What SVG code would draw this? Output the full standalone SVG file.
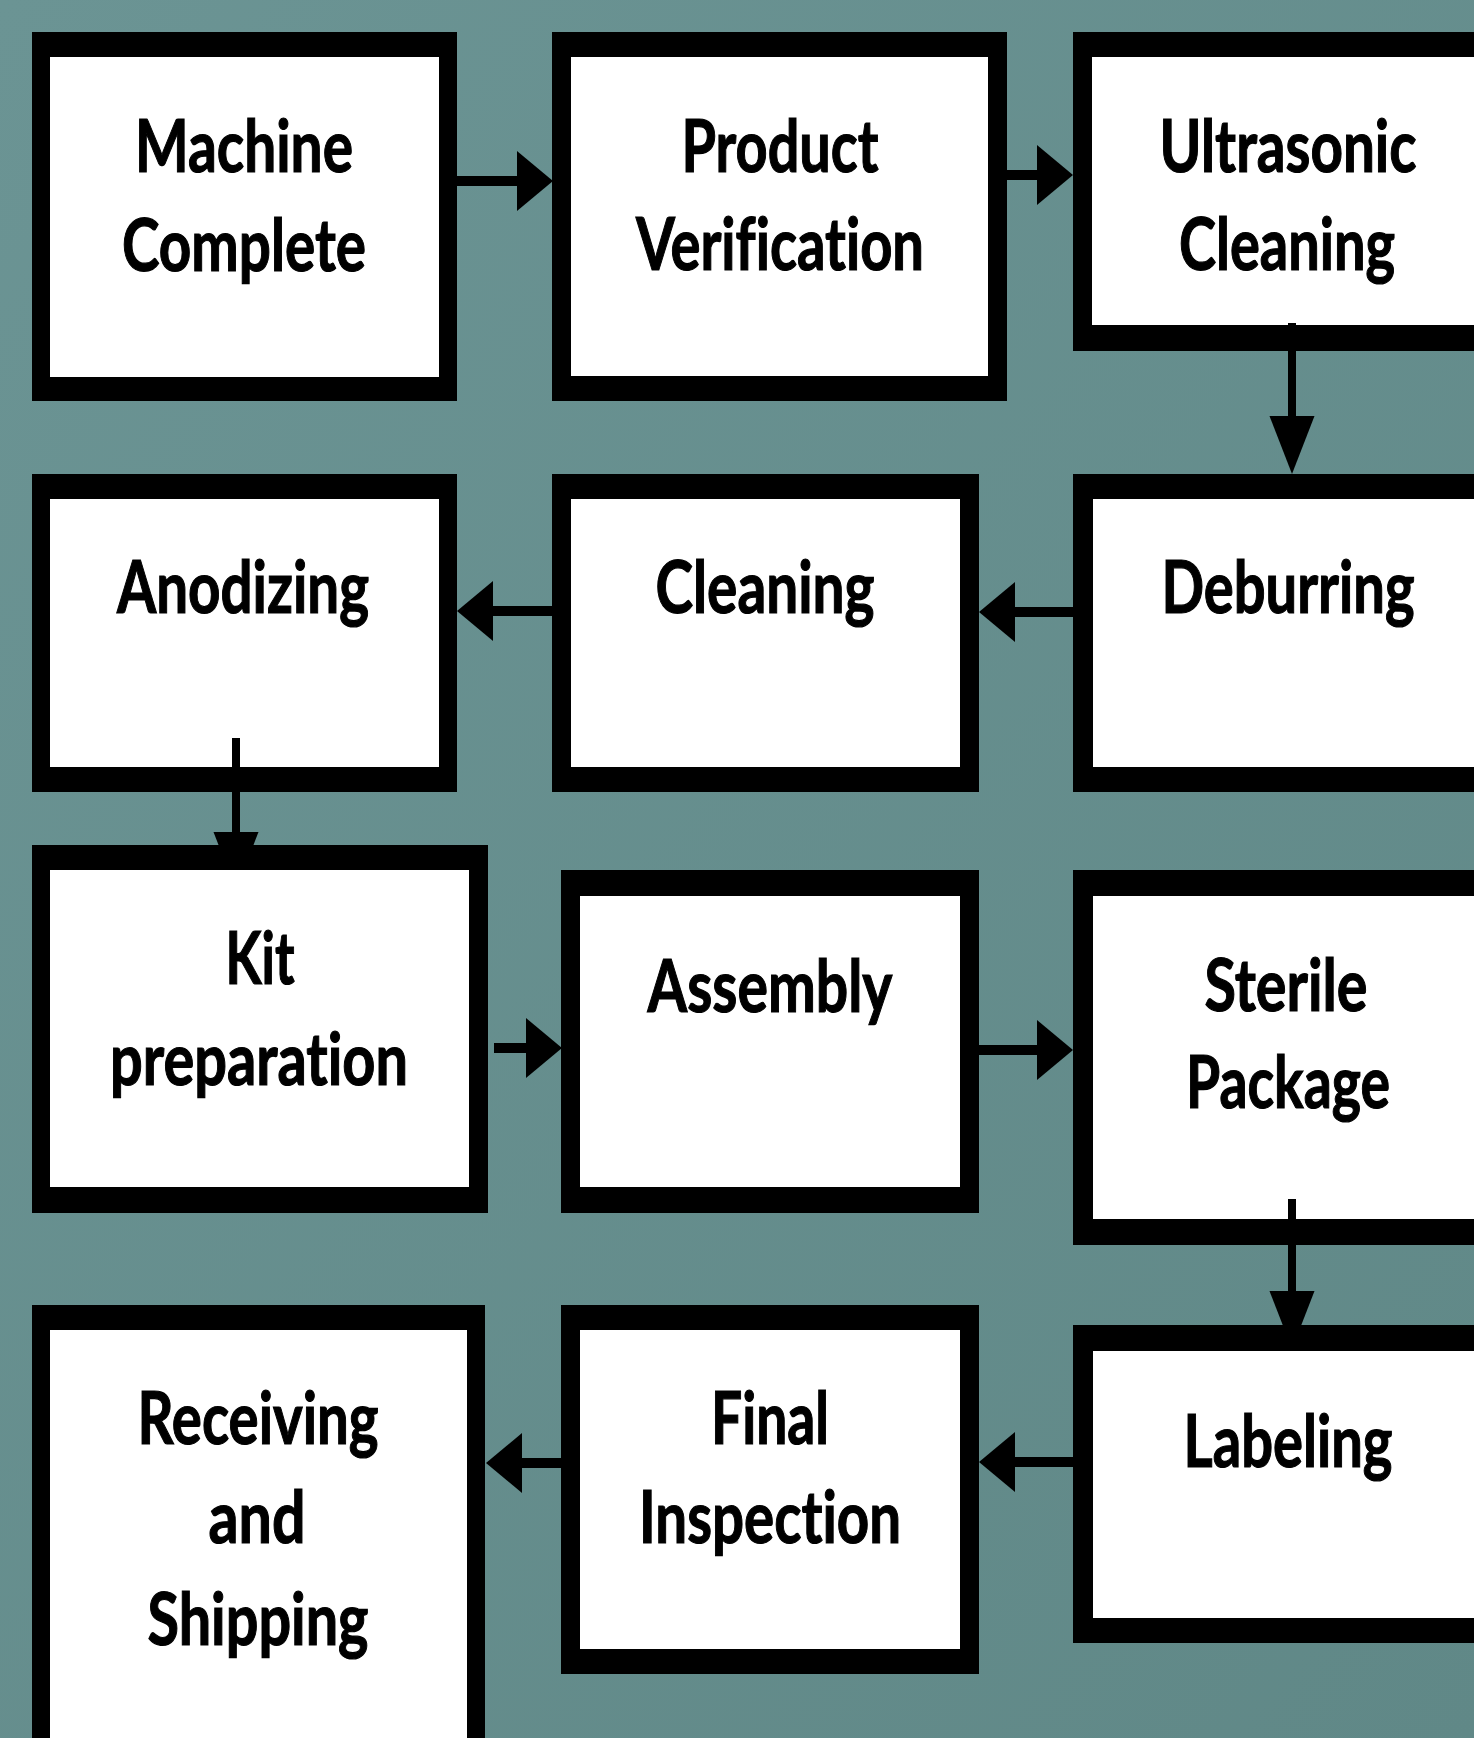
<svg xmlns="http://www.w3.org/2000/svg" width="1474" height="1738" viewBox="0 0 1474 1738">
  <defs>
    <linearGradient id="bg" x1="0" y1="0" x2="1" y2="1">
      <stop offset="0" stop-color="#6b9494"/>
      <stop offset="1" stop-color="#608887"/>
    </linearGradient>
    <!-- arrowheads: horizontal runs are short and wide, vertical runs long and narrow -->
    <marker id="headH" markerUnits="userSpaceOnUse" markerWidth="36" markerHeight="62" viewBox="0 -31 36 62" refX="0" refY="0" orient="auto" overflow="visible">
      <path d="M0,-30 L36,0 L0,30 Z" fill="#000"/>
    </marker>
    <marker id="headV" markerUnits="userSpaceOnUse" markerWidth="58" markerHeight="46" viewBox="0 -23 58 46" refX="0" refY="0" orient="auto" overflow="visible">
      <path d="M0,-22.5 L58,0 L0,22.5 Z" fill="#000"/>
    </marker>
    <clipPath id="aboveKit">
      <rect x="0" y="0" width="1474" height="870"/>
    </clipPath>
  </defs>
  <style>
    .frame { fill: #000; }
    .face { fill: #fff; }
    .label { font-family: "Lato", "Open Sans", "Liberation Sans", sans-serif; font-weight: 700; font-size: 73px; font-variant-ligatures: none; fill: #000; stroke: #000; stroke-width: 1.2; text-anchor: middle; }
    .h { fill: none; stroke: #000; stroke-width: 10; marker-end: url(#headH); }
    .v { fill: none; stroke: #000; stroke-width: 8; marker-end: url(#headV); }
  </style>

  <rect x="0" y="0" width="1474" height="1738" fill="url(#bg)"/>

  <!-- process steps -->
  <g id="machine-complete">
    <rect class="frame" x="32" y="32" width="425" height="369"/>
    <rect class="face" x="50" y="57" width="389" height="320"/>
    <text class="label" x="244" y="172" textLength="218" lengthAdjust="spacingAndGlyphs">Machine</text>
    <text class="label" x="244" y="271" textLength="244" lengthAdjust="spacingAndGlyphs">Complete</text>
  </g>
  <g id="product-verification">
    <rect class="frame" x="552" y="32" width="455" height="369"/>
    <rect class="face" x="571" y="57" width="417" height="319"/>
    <text class="label" x="780" y="172" textLength="197" lengthAdjust="spacingAndGlyphs">Product</text>
    <text class="label" x="780" y="270" textLength="288" lengthAdjust="spacingAndGlyphs">Verification</text>
  </g>
  <g id="ultrasonic-cleaning">
    <rect class="frame" x="1073" y="32" width="430" height="319"/>
    <rect class="face" x="1092" y="57" width="411" height="268"/>
    <text class="label" x="1288" y="172" textLength="257" lengthAdjust="spacingAndGlyphs">Ultrasonic</text>
    <text class="label" x="1287" y="270" textLength="216" lengthAdjust="spacingAndGlyphs">Cleaning</text>
  </g>
  <g id="anodizing">
    <rect class="frame" x="32" y="474" width="425" height="318"/>
    <rect class="face" x="50" y="499" width="389" height="268"/>
    <text class="label" x="243" y="613" textLength="252" lengthAdjust="spacingAndGlyphs">Anodizing</text>
  </g>
  <g id="cleaning">
    <rect class="frame" x="552" y="474" width="427" height="318"/>
    <rect class="face" x="571" y="499" width="389" height="268"/>
    <text class="label" x="765" y="613" textLength="219" lengthAdjust="spacingAndGlyphs">Cleaning</text>
  </g>
  <g id="deburring">
    <rect class="frame" x="1073" y="474" width="430" height="318"/>
    <rect class="face" x="1093" y="499" width="410" height="268"/>
    <text class="label" x="1288" y="613" textLength="253" lengthAdjust="spacingAndGlyphs">Deburring</text>
  </g>
  <g id="kit-preparation">
    <rect class="frame" x="32" y="845" width="456" height="368"/>
    <rect class="face" x="50" y="870" width="419" height="317"/>
    <text class="label" x="260" y="984" textLength="69" lengthAdjust="spacingAndGlyphs">Kit</text>
    <text class="label" x="259" y="1085" textLength="298" lengthAdjust="spacingAndGlyphs">preparation</text>
  </g>
  <g id="assembly">
    <rect class="frame" x="561" y="870" width="418" height="343"/>
    <rect class="face" x="580" y="896" width="380" height="291"/>
    <text class="label" x="770" y="1012" textLength="245" lengthAdjust="spacingAndGlyphs">Assembly</text>
  </g>
  <g id="sterile-package">
    <rect class="frame" x="1073" y="870" width="430" height="375"/>
    <rect class="face" x="1093" y="896" width="410" height="323"/>
    <text class="label" x="1286" y="1011" textLength="163" lengthAdjust="spacingAndGlyphs">Sterile</text>
    <text class="label" x="1288" y="1108" textLength="204" lengthAdjust="spacingAndGlyphs">Package</text>
  </g>
  <g id="receiving-and-shipping">
    <rect class="frame" x="32" y="1305" width="453" height="460"/>
    <rect class="face" x="50" y="1330" width="417" height="435"/>
    <text class="label" x="258" y="1444" textLength="241" lengthAdjust="spacingAndGlyphs">Receiving</text>
    <text class="label" x="257" y="1543" textLength="97" lengthAdjust="spacingAndGlyphs">and</text>
    <text class="label" x="258" y="1645" textLength="221" lengthAdjust="spacingAndGlyphs">Shipping</text>
  </g>
  <g id="final-inspection">
    <rect class="frame" x="561" y="1305" width="418" height="369"/>
    <rect class="face" x="580" y="1330" width="380" height="319"/>
    <text class="label" x="770" y="1444" textLength="118" lengthAdjust="spacingAndGlyphs">Final</text>
    <text class="label" x="770" y="1543" textLength="262" lengthAdjust="spacingAndGlyphs">Inspection</text>
  </g>
  <g id="labeling">
    <rect class="frame" x="1073" y="1325" width="430" height="318"/>
    <rect class="face" x="1093" y="1351" width="410" height="267"/>
    <text class="label" x="1288" y="1467" textLength="209" lengthAdjust="spacingAndGlyphs">Labeling</text>
  </g>

  <!-- flow connectors -->
  <g id="connectors">
    <path class="h" d="M457,181 L517,181"/>
    <path class="h" d="M1007,175 L1037,175"/>
    <path class="v" d="M1292,323 L1292,416"/>
    <path class="h" d="M1073,612 L1015,612"/>
    <path class="h" d="M552,611 L493,611"/>
    <path class="v" d="M236,738 L236,832" clip-path="url(#aboveKit)"/>
    <path class="h" d="M494,1048 L526,1048"/>
    <path class="h" d="M979,1050 L1037,1050"/>
    <path class="v" d="M1292,1199 L1292,1291"/>
    <path class="h" d="M1073,1462 L1015,1462"/>
    <path class="h" d="M561,1463 L522,1463"/>
  </g>
</svg>
